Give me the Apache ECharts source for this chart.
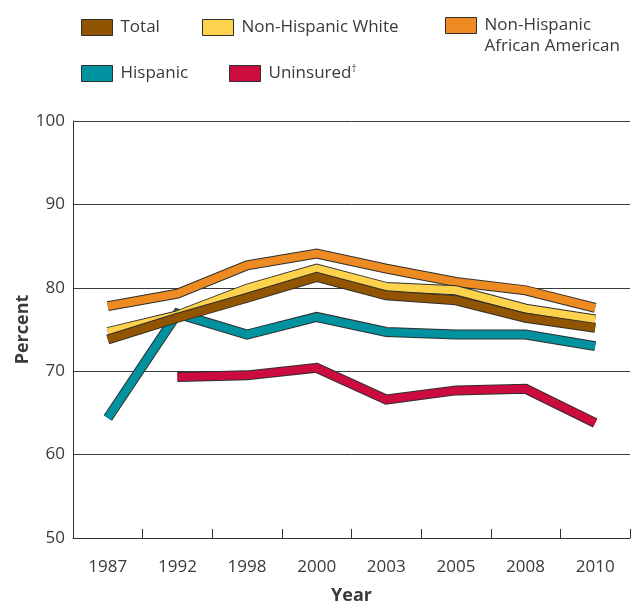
<!DOCTYPE html>
<html>
<head>
<meta charset="utf-8">
<script src="https://cdn.jsdelivr.net/npm/echarts@6/dist/echarts.min.js"></script>
<style>
  html, body { margin: 0; padding: 0; background: #fff; }
  #chart { width: 631px; height: 602px; }
</style>
</head>
<body>
<div id="chart"></div>
<script>
// 数据
var years = ['1987', '1992', '1998', '2000', '2003', '2005', '2008', '2010'];
var total = [73.8, 76.4, 78.8, 81.3, 79.1, 78.5, 76.4, 75.2];
var white = [74.7, 76.7, 79.9, 82.3, 80.1, 79.7, 77.5, 76.2];
var black = [77.8, 79.3, 82.7, 84.1, 82.3, 80.7, 79.7, 77.6];
var hispanic = [64.4, 76.9, 74.4, 76.5, 74.7, 74.4, 74.4, 73.0];
var uninsured = [null, 69.3, 69.5, 70.4, 66.6, 67.7, 67.9, 63.8];

var names = ['Uninsured†', 'Hispanic', 'Non-Hispanic African American', 'Non-Hispanic White', 'Total'];
var colors = ['#cc0c3f', '#00929f', '#ee8a22', '#fdd24d', '#915400'];
var values = [uninsured, hispanic, black, white, total];

var textColor = '#3a3a3a';
var font = 'Open Sans';

// 每条线：先画深色描边，再画彩色线
var series = [];
names.forEach(function (n, i) {
  series.push({
    name: n + ' outline',
    type: 'line',
    data: values[i],
    symbol: 'none',
    silent: true,
    lineStyle: { color: '#2e2e2e', width: 10, join: 'miter', cap: 'butt' },
    itemStyle: { color: '#2e2e2e' }
  });
  series.push({
    name: n,
    type: 'line',
    data: values[i],
    symbol: 'none',
    lineStyle: { color: colors[i], width: 8, join: 'miter', cap: 'butt' },
    itemStyle: { color: colors[i] }
  });
});

function legendItem(name, left, top) {
  return {
    data: [name],
    left: left,
    top: top,
    icon: 'rect',
    itemWidth: 31,
    itemHeight: 16,
    padding: 0,
    itemStyle: { borderColor: '#2e2e2e', borderWidth: 1 },
    formatter: function (n) {
      if (n === 'Non-Hispanic African American') return 'Non-Hispanic\nAfrican American';
      if (n === 'Uninsured†') return 'Uninsured{sup|†}';
      return n;
    },
    textStyle: {
      color: textColor,
      fontFamily: font,
      fontSize: 17,
      lineHeight: 21,
      padding: name === 'Non-Hispanic African American' ? [21, 0, 0, 3] : [0, 0, 0, 3],
      rich: {
        sup: { fontSize: 10, fontFamily: font, color: textColor, padding: [0, 0, 8, 0] }
      }
    }
  };
}

var chart = echarts.init(document.getElementById('chart'));
chart.setOption({
  animation: false,
  backgroundColor: '#fff',
  legend: [
    legendItem('Total', 81, 17),
    legendItem('Non-Hispanic White', 202, 17),
    legendItem('Non-Hispanic African American', 445, -6),
    legendItem('Hispanic', 81, 63),
    legendItem('Uninsured†', 229, 63)
  ],
  grid: { left: 73, right: 1, top: 121, bottom: 64, containLabel: false, outerBoundsMode: 'none' },
  xAxis: {
    type: 'category',
    data: years,
    boundaryGap: true,
    name: 'Year',
    nameLocation: 'middle',
    nameGap: 49,
    nameMoveOverlap: false,
    nameTextStyle: { color: textColor, fontFamily: font, fontSize: 18, fontWeight: 'bold' },
    axisLine: { lineStyle: { color: '#2e2e2e', width: 1 } },
    axisTick: { show: true, inside: true, length: 9, alignWithLabel: false, interval: 0, lineStyle: { color: '#2e2e2e', width: 1 } },
    axisLabel: { color: textColor, fontFamily: font, fontSize: 17, margin: 21 },
    splitLine: { show: false }
  },
  yAxis: {
    type: 'value',
    min: 50,
    max: 100,
    interval: 10,
    name: 'Percent',
    nameLocation: 'middle',
    nameGap: 41,
    nameMoveOverlap: false,
    nameTextStyle: { color: textColor, fontFamily: font, fontSize: 18, fontWeight: 'bold' },
    axisLine: { show: true, lineStyle: { color: '#2e2e2e', width: 1 } },
    axisTick: { show: false },
    axisLabel: { color: textColor, fontFamily: font, fontSize: 17, margin: 8 },
    splitLine: { show: true, lineStyle: { color: '#3a3a3a', width: 1 } }
  },
  series: series
});
</script>
</body>
</html>
